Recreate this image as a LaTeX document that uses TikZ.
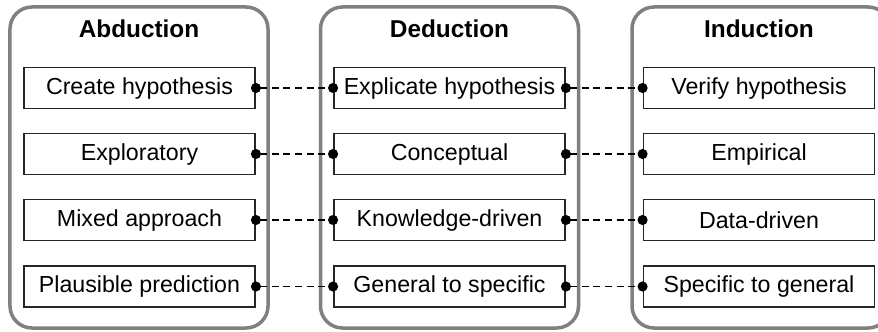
\documentclass[tikz,border=0pt]{standalone}
\usepackage{fontspec}
\setmainfont{Liberation Sans}
\usetikzlibrary{positioning,arrows.meta}
\definecolor{frameGray}{RGB}{128,128,128}
\tikzset{
    column/.style={
        draw=frameGray,
        line width=0.105cm,
        rounded corners=0.66cm,
        minimum width=7.74cm,
        minimum height=9.63cm
    },
    title/.style={
        font=\fontsize{20.8}{24}\selectfont\bfseries
    },
    itembox/.style={
        draw=black!85,
        line width=0.055cm,
        fill=white,
        minimum width=6.93cm,
        minimum height=1.23cm,
        inner sep=0pt,
        font=\fontsize{19.8}{22}\selectfont
    },
    link/.style={
        {Circle[length=0.3cm]}-{Circle[length=0.3cm]},
        dash pattern=on 0.21cm off 0.14cm,
        line width=0.055cm,
        shorten <=-0.15cm,
        shorten >=-0.15cm
    }
}

\begin{document}
\begin{tikzpicture}[x=0.03cm, y=-0.03cm]
        \useasboundingbox (0,0) rectangle (878,331);

        % the three columns
        \node[column] (abd) at (139,167.5) {};
        \node[column] (ded) at (449.5,167.5) {};
        \node[column] (ind) at (761,167.5) {};

        \node[title] (abdT) at (139,29) {Abduction};
        \node[title] (dedT) at (449.5,29) {Deduction};
        \node[title] (indT) at (759,29) {Induction};

        % Abduction
        \node[itembox] (a1) at (139.5,88) {Create hypothesis};
        \node[itembox] (a2) at (139.5,154) {Exploratory};
        \node[itembox] (a3) at (139.5,220) {Mixed approach};
        \node[itembox] (a4) at (139.5,286.5) {Plausible prediction};

        % Deduction
        \node[itembox] (d1) at (449.5,88) {Explicate hypothesis};
        \node[itembox] (d2) at (449.5,154) {Conceptual};
        \node[itembox] (d3) at (449.5,220) {Knowledge-driven};
        \node[itembox] (d4) at (449.5,286.5) {General to specific};

        % Induction
        \node[itembox] (i1) at (759,88) {Verify hypothesis};
        \node[itembox] (i2) at (759,154) {Empirical};
        \node[itembox] (i3) at (759,220) {Data-driven};
        \node[itembox] (i4) at (759,286.5) {Specific to general};

        \draw[link] (a1.east) -- (d1.west);
        \draw[link] (a2.east) -- (d2.west);
        \draw[link] (a3.east) -- (d3.west);
        \draw[link] (a4.east) -- (d4.west);

        \draw[link] (d1.east) -- (i1.west);
        \draw[link] (d2.east) -- (i2.west);
        \draw[link] (d3.east) -- (i3.west);
        \draw[link] (d4.east) -- (i4.west);
    \end{tikzpicture}
\end{document}
